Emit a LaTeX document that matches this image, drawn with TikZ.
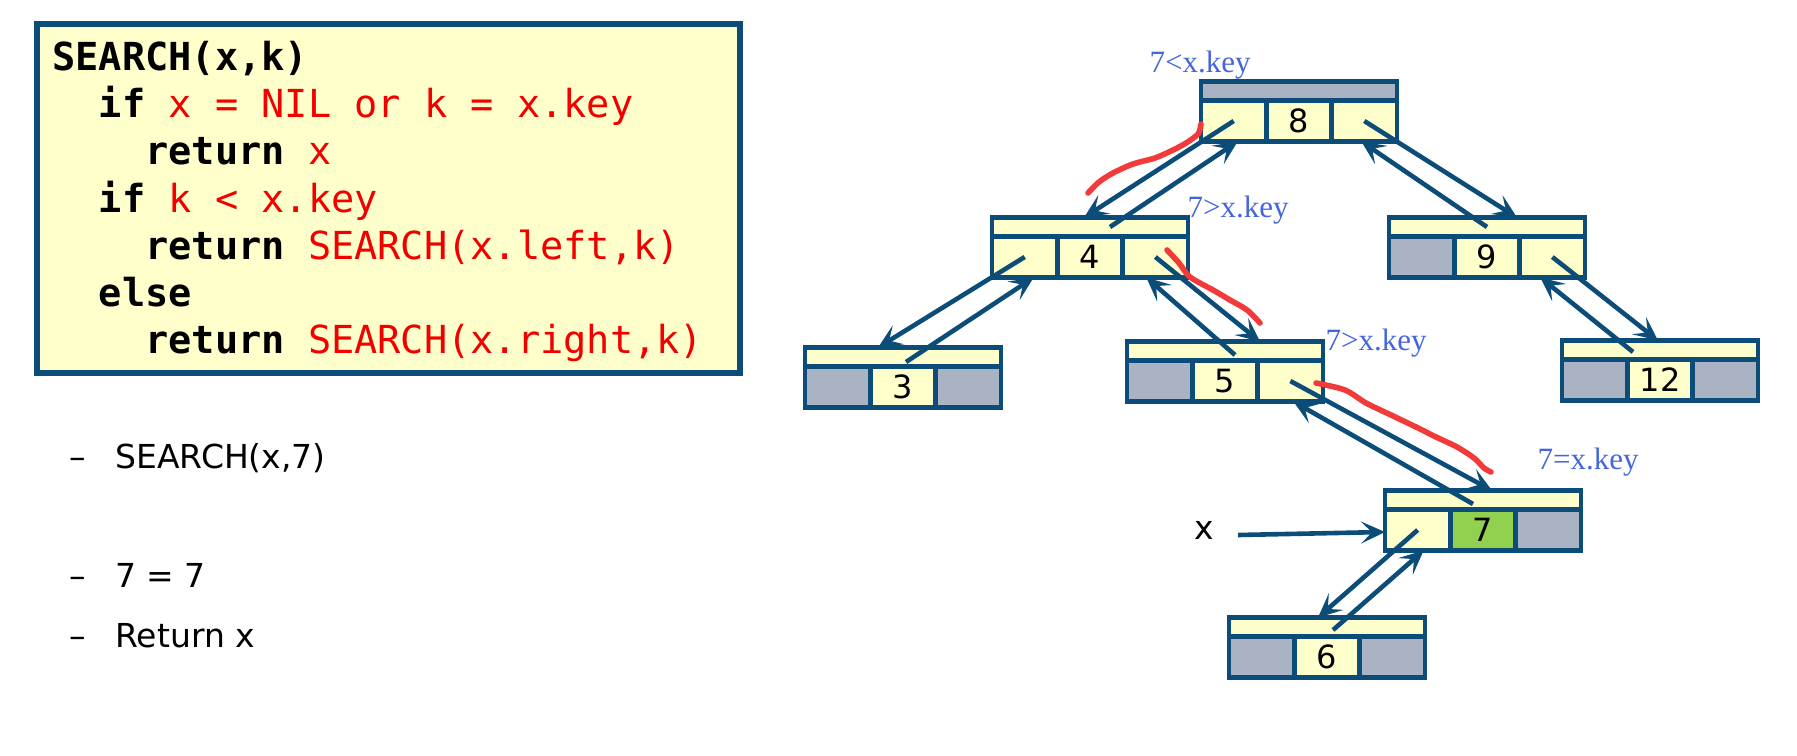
\documentclass[tikz,border=0pt]{standalone}
\usepackage{fontspec}
\setmainfont{DejaVu Sans}
\newfontfamily\codefont{DejaVu Sans Mono}
\newfontfamily\notefont{Liberation Serif}
\usepackage{xcolor}
\usepackage{tikz}
\usetikzlibrary{positioning,arrows.meta}
\definecolor{bstblue}{HTML}{0B4D78}
\definecolor{bstyellow}{HTML}{FFFFCC}
\definecolor{bstgrey}{HTML}{A9B3C4}
\definecolor{bstgreen}{HTML}{92D050}
\definecolor{codered}{HTML}{F20000}
\definecolor{notered}{HTML}{F23A3A}
\definecolor{noteblue}{HTML}{4466DD}

\begin{document}
\begin{tikzpicture}[x=0.5pt,y=-0.5pt,
  cell/.style={draw=bstblue,line width=2.4pt,fill=bstyellow,minimum width=32.67pt,minimum height=20.5pt,inner sep=0pt,outer sep=0pt,font=\fontsize{16}{16}\selectfont},
  bar/.style={cell,minimum width=98pt,minimum height=9.5pt},
  ptr/.style={draw=bstblue,line width=2.3pt,-{Stealth[length=12pt,width=11pt,inset=5.5pt]}},
  redline/.style={draw=notered,line width=2.8pt,line cap=round,line join=round},
  note/.style={font=\notefont\fontsize{15.5}{16}\selectfont,text=noteblue,inner sep=0pt},
  codeln/.style={font=\codefont\bfseries\fontsize{19.3}{23}\selectfont,anchor=base west,inner sep=0pt},
  item/.style={font=\fontsize{16.5}{19}\selectfont,anchor=base west,inner sep=0pt}]
\useasboundingbox (0,0) rectangle (1797,755);
% pseudocode
\node[draw=bstblue,line width=2.8pt,fill=bstyellow,minimum width=351.5pt,minimum height=174.5pt] (codebox) at (388.5,198.5) {};
\node[codeln] (code1) at (52,70) {SEARCH(x,k)};
\node[codeln] (code2) at (52,117) {\phantom{xx}if \textcolor{codered}{\mdseries x = NIL or k = x.key}};
\node[codeln] (code3) at (52,164) {\phantom{xxxx}return \textcolor{codered}{\mdseries x}};
\node[codeln] (code4) at (52,212) {\phantom{xx}if \textcolor{codered}{\mdseries k < x.key}};
\node[codeln] (code5) at (52,259) {\phantom{xxxx}return \textcolor{codered}{\mdseries SEARCH(x.left,k)}};
\node[codeln] (code6) at (52,306) {\phantom{xx}else};
\node[codeln] (code7) at (52,353) {\phantom{xxxx}return \textcolor{codered}{\mdseries SEARCH(x.right,k)}};
% steps
\node[item] (dash1) at (69,468) {–};
\node[item] (item1) at (115,468) {SEARCH(x,7)};
\node[item] (dash2) at (69,587) {–};
\node[item] (item2) at (115,587) {7 = 7};
\node[item] (dash3) at (69,647) {–};
\node[item] (item3) at (115,647) {Return x};
% tree nodes
\node[cell] (n8k) at (1299,121) {8};
\node[cell,left=0pt of n8k] (n8l) {};
\node[cell,right=0pt of n8k] (n8r) {};
\node[bar,fill=bstgrey,above=0pt of n8k] (n8t) {};
\node[cell] (n4k) at (1090,257) {4};
\node[cell,left=0pt of n4k] (n4l) {};
\node[cell,right=0pt of n4k] (n4r) {};
\node[bar,above=0pt of n4k] (n4t) {};
\node[cell] (n9k) at (1487,257) {9};
\node[cell,fill=bstgrey,left=0pt of n9k] (n9l) {};
\node[cell,right=0pt of n9k] (n9r) {};
\node[bar,above=0pt of n9k] (n9t) {};
\node[cell] (n3k) at (903,387) {3};
\node[cell,fill=bstgrey,left=0pt of n3k] (n3l) {};
\node[cell,fill=bstgrey,right=0pt of n3k] (n3r) {};
\node[bar,above=0pt of n3k] (n3t) {};
\node[cell] (n5k) at (1225,381) {5};
\node[cell,fill=bstgrey,left=0pt of n5k] (n5l) {};
\node[cell,right=0pt of n5k] (n5r) {};
\node[bar,above=0pt of n5k] (n5t) {};
\node[cell] (n12k) at (1660,380) {12};
\node[cell,fill=bstgrey,left=0pt of n12k] (n12l) {};
\node[cell,fill=bstgrey,right=0pt of n12k] (n12r) {};
\node[bar,above=0pt of n12k] (n12t) {};
\node[cell,fill=bstgreen] (n7k) at (1483,530) {7};
\node[cell,left=0pt of n7k] (n7l) {};
\node[cell,fill=bstgrey,right=0pt of n7k] (n7r) {};
\node[bar,above=0pt of n7k] (n7t) {};
\node[cell] (n6k) at (1327,657) {6};
\node[cell,fill=bstgrey,left=0pt of n6k] (n6l) {};
\node[cell,fill=bstgrey,right=0pt of n6k] (n6r) {};
\node[bar,above=0pt of n6k] (n6t) {};
% child pointers
\draw[ptr] (n8l.center) -- ([shift={(-6,0)}]n4t.north);
\draw[ptr] (n8r.center) -- ([shift={(30,0)}]n9t.north);
\draw[ptr] (n4l.center) -- ([shift={(-25,0)}]n3t.north);
\draw[ptr] (n4r.center) -- ([shift={(35,0)}]n5t.north);
\draw[ptr] (n9r.center) -- ([shift={(-2,0)}]n12t.north);
\draw[ptr] (n5r.center) -- ([shift={(9,0)}]n7t.north);
\draw[ptr] (n7l.center) -- ([shift={(-9,0)}]n6t.north);
% parent pointers
\draw[ptr] ([shift={(20,0)}]n4t.center) -- ([shift={(4,0)}]n8l.south);
\draw[ptr] (n9t.center) -- ([shift={(-3,0)}]n8r.south);
\draw[ptr] ([shift={(3,5)}]n3t.center) -- ([shift={(9,0)}]n4l.south);
\draw[ptr] ([shift={(10,4)}]n5t.center) -- ([shift={(-9,0)}]n4r.south);
\draw[ptr] ([shift={(-27,2)}]n12t.center) -- ([shift={(-12,0)}]n9r.south);
\draw[ptr] ([shift={(-10,4)}]n7t.center) -- ([shift={(3,0)}]n5r.south);
\draw[ptr] ([shift={(6,3)}]n6t.center) -- ([shift={(6,0)}]n7l.south);
% x pointer
\node[item,anchor=center] (xlbl) at (1204,530) {x};
\draw[ptr] ([shift={(24,5)}]xlbl.east) -- ([shift={(0,2)}]n7l.west);
% comparisons
\node[note] (cmp8) at (1200,65) {7<x.key};
\node[note] (cmp4) at (1238,210) {7>x.key};
\node[note] (cmp5) at (1376,343) {7>x.key};
\node[note] (cmp7) at (1588,462) {7=x.key};
\draw[redline] plot[smooth] coordinates {(1201,124) (1198,134) (1186,143) (1173,150) (1155,158) (1133,164) (1113,173) (1099,182) (1088,193)};
\draw[redline] plot[smooth] coordinates {(1167,250) (1179,263) (1190,277) (1213,290) (1230,300) (1247,310) (1260,323)};
\draw[redline] plot[smooth] coordinates {(1316,383) (1345,390) (1366,403) (1391,415) (1416,427) (1436,437) (1457,447) (1474,458) (1484,468) (1491,472)};
\end{tikzpicture}
\end{document}
